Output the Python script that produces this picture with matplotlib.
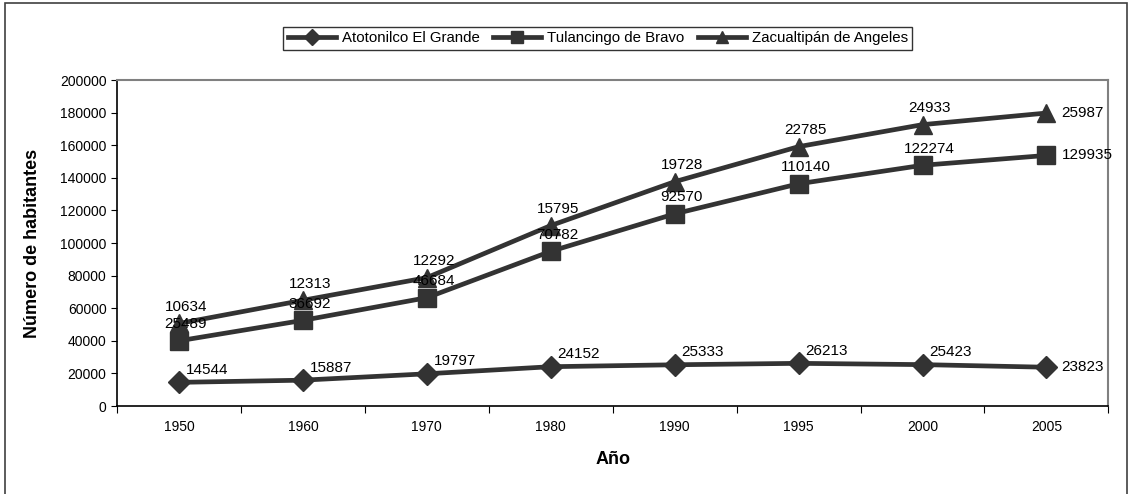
import matplotlib
matplotlib.use("Agg")
import matplotlib.pyplot as plt
import numpy as np
from matplotlib.patches import Rectangle

plt.rcParams['font.family'] = ['Liberation Sans', 'DejaVu Sans']

years = ["1950", "1960", "1970", "1980", "1990", "1995", "2000", "2005"]
atotonilco = [14544, 15887, 19797, 24152, 25333, 26213, 25423, 23823]
tulancingo = [25489, 36692, 46684, 70782, 92570, 110140, 122274, 129935]
zacualtipan = [10634, 12313, 12292, 15795, 19728, 22785, 24933, 25987]
series_names = ["Atotonilco El Grande", "Tulancingo de Bravo", "Zacualtipán de Angeles"]

W, H = 1133, 494
fig = plt.figure(figsize=(W / 100, H / 100), dpi=100)
fig.patches.append(Rectangle((5 / W, -0.01), (1127 - 5) / W, 1.0 - 3 / H + 0.01,
                             transform=fig.transFigure, fill=False,
                             edgecolor='#404040', linewidth=1.2))
ax = fig.add_axes([0.1033, 0.178, 0.875, 0.66])

x = np.arange(len(years))
a = np.array(atotonilco)
t = a + np.array(tulancingo)
z = t + np.array(zacualtipan)
col = '#333333'
markers = ['D', 's', '^']
msizes = [11, 13, 13]
stacks = [a, t, z]
for s, m, ms, name in zip(stacks, markers, msizes, series_names):
    ax.plot(x, s, color=col, linewidth=3.4, marker=m, markersize=ms, label=name, zorder=3)

fs = 11
for i in x:
    last = i == len(x) - 1
    if last:
        ax.annotate(str(atotonilco[i]), (i, a[i]), xytext=(11, 0), textcoords='offset points',
                    ha='left', va='center', fontsize=fs)
    else:
        ax.annotate(str(atotonilco[i]), (i, a[i]), xytext=(5, 4), textcoords='offset points',
                    ha='left', va='bottom', fontsize=fs)
    for s, vals in ((t, tulancingo), (z, zacualtipan)):
        if last:
            ax.annotate(str(vals[i]), (i, s[i]), xytext=(11, 0), textcoords='offset points',
                        ha='left', va='center', fontsize=fs)
        else:
            ax.annotate(str(vals[i]), (i, s[i]), xytext=(5, 7), textcoords='offset points',
                        ha='center', va='bottom', fontsize=fs)

ax.set_xlim(-0.5, len(x) - 0.5)
ax.set_ylim(0, 200000)
ax.set_yticks(np.arange(0, 200001, 20000))
ax.set_xticks(np.arange(-0.5, len(x), 1.0))
ax.set_xticklabels([])
ax.set_xticks(x, minor=True)
ax.set_xticklabels(years, minor=True)
ax.tick_params(axis='x', which='minor', length=0, labelsize=10, pad=10)
ax.tick_params(axis='x', which='major', direction='out', length=5)
ax.tick_params(axis='y', direction='out', length=4, labelsize=10)
for sp in ['left', 'bottom']:
    ax.spines[sp].set_color('black')
    ax.spines[sp].set_linewidth(1.2)
for sp in ['top', 'right']:
    ax.spines[sp].set_color('#808080')
    ax.spines[sp].set_linewidth(1.5)

ax.set_xlabel("Año", fontsize=13, fontweight='bold', labelpad=12)
ax.set_ylabel("Número de habitantes", fontsize=13, fontweight='bold', labelpad=14)

leg = ax.legend(loc='upper center', bbox_to_anchor=(0.485, 1.163), ncol=3, frameon=True,
                fancybox=False, edgecolor='black', fontsize=10.8, handlelength=3.2,
                columnspacing=0.9, handletextpad=0.4, borderpad=0.3, borderaxespad=0,
                markerscale=0.7)
leg.get_frame().set_linewidth(1.0)

fig.savefig("out.png", dpi=100)
